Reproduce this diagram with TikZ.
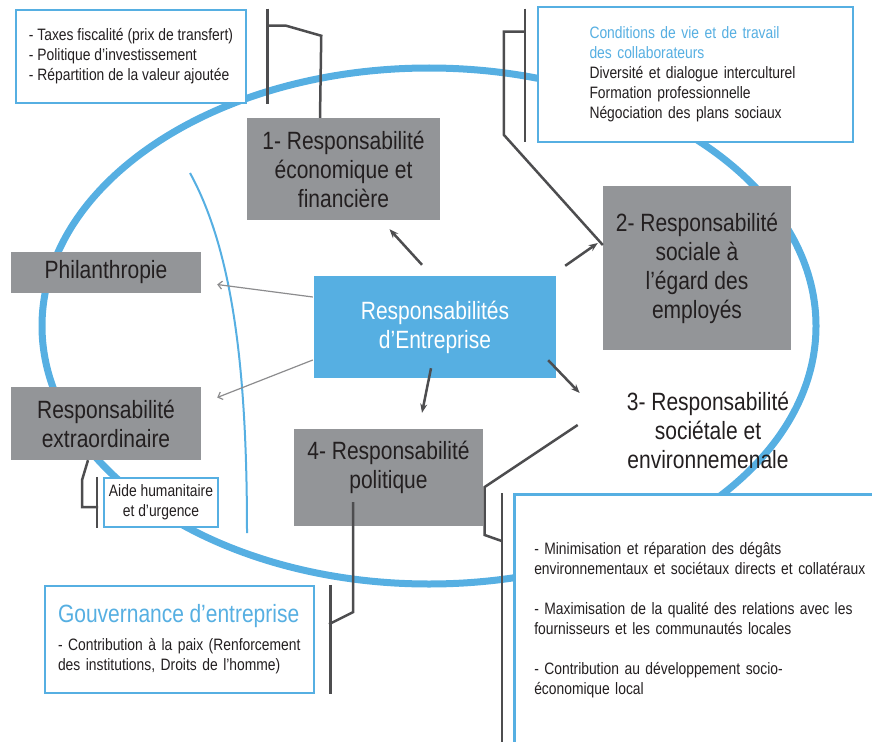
\documentclass[tikz,border=0pt]{standalone}
\usepackage{fontspec}
\setmainfont{Liberation Sans}[FakeStretch=0.84]
\usepackage{tikz}
\usetikzlibrary{calc,arrows.meta,positioning}

\definecolor{rblue}{RGB}{86,175,226}
\definecolor{rgray}{RGB}{147,149,152}
\definecolor{rdark}{RGB}{77,77,79}
\definecolor{rthin}{RGB}{140,140,142}
\definecolor{rtext}{RGB}{35,31,32}

\newcommand{\bigtxt}{\fontsize{25}{29}\selectfont}
\newcommand{\smalltxt}{\fontsize{16.5}{20}\selectfont}

\begin{document}
\begin{tikzpicture}[x=1pt,y=-1pt,
	graybox/.style={fill=rgray,text=rtext,font=\bigtxt,align=center,inner sep=0pt},
	listbox/.style={draw=rblue,line width=2.5pt,fill=white,text=rtext,font=\smalltxt,align=left,inner sep=0pt},
	bracket/.style={draw=rdark,line width=2.5pt},
	darrow/.style={draw=rdark,line width=2.5pt,-{Stealth[length=9pt,width=7pt]}},
	tarrow/.style={draw=rthin,line width=1.2pt,-{Straight Barb[length=4pt,width=8pt]}}]
	\useasboundingbox (0,0) rectangle (872,741);
	\clip (0,0) rectangle (872,741);
	
	%ring
	\draw[rblue,line width=7pt] (429,326) ellipse [x radius=387,y radius=258];
	\draw[rblue,line width=2pt] (190,173) .. controls (235,255) and (247,380) .. (247,533);
	
	%boxes
	\node[graybox,minimum width=193,minimum height=102] (econ) at (343.5,169) {1- Responsabilité\\économique et\\financière};
	\node[graybox,minimum width=188,minimum height=164] (social) at (697,268) {2- Responsabilité\\sociale à\\l’égard des\\employés};
	\node[fill=rblue,text=white,font=\bigtxt,align=center,inner sep=0pt,minimum width=242,minimum height=102] (resp) at (435,327) {Responsabilités\\d’Entreprise};
	\node[graybox,minimum width=190,minimum height=41] (phil) at (106,272.5) {Philanthropie};
	\node[graybox,minimum width=190,minimum height=73] (extra) at (106,423.5) {Responsabilité\\extraordinaire};
	\node[graybox,minimum width=189,minimum height=97] (pol) at (388.5,477.5) {};
	\node[font=\bigtxt,text=rtext,align=center,inner sep=0pt] (poltxt) at (388.5,467) {4- Responsabilité\\politique};
	\node[font=\bigtxt,text=rtext,align=center,inner sep=0pt] (env) at (708,430) {3- Responsabilité\\sociétale et\\environnemenale};
	
	%lists
	\node[listbox,minimum width=230,minimum height=93] (ecolist) at (131,56.5) {- Taxes fiscalité (prix de transfert)\\- Politique d’investissement\\- Répartition de la valeur ajoutée};
	\node[listbox,minimum width=315,minimum height=135,text width=212] (soclist) at (695.5,74.5) {{\color{rblue}Conditions de vie et de travail}\\{\color{rblue}des collaborateurs}\\Diversité et dialogue interculturel\\Formation professionnelle\\Négociation des plans sociaux};
	\node[listbox,minimum width=114,minimum height=49,align=center] (aide) at (161,502.5) {Aide humanitaire\\et d’urgence};
	\node[listbox,minimum width=269,minimum height=107,text width=243] (gouv) at (179.5,639.5) {{\color{rblue}\bigtxt Gouvernance d’entreprise}\\[8pt]- Contribution à la paix (Renforcement\\des institutions, Droits de l’homme)};
	\node[listbox,anchor=north west,minimum height=252,text width=339,inner xsep=20pt] (envlist) at (513,493) {- Minimisation et réparation des dégâts\\environnementaux et sociétaux directs et collatéraux\\[20pt]- Maximisation de la qualité des relations avec les\\fournisseurs et les communautés locales\\[20pt]- Contribution au développement socio-\\économique local};
	
	%brackets
	\draw[bracket] ($(ecolist.north east)+(20,0)$) -- ($(ecolist.south east)+(20,0)$);
	\draw[bracket] ($(ecolist.north east)+(20,17)$) -- ++(19,0) -- ++(35,10) -- ($(econ.north)+(-23.5,0)$);
	\draw[bracket] ($(soclist.north west)+(-12,3)$) -- ($(soclist.south west)+(-12,-1)$);
	\draw[bracket] ($(soclist.north west)+(-12,26)$) -- ++(-21,0) -- ++(0,103) -- ($(social.west)+(0,-23)$);
	\draw[bracket] ($(aide.north west)+(-6,0)$) -- ($(aide.south west)+(-6,0)$);
	\draw[bracket] ($(extra.south)+(-18,0)$) -- ++(-6,20) -- ++(0,27) -- ++(16,0);
	\draw[bracket] ($(gouv.north east)+(15,0)$) -- ($(gouv.south east)+(15,0)$);
	\draw[bracket] ($(pol.south)+(-35.5,-24)$) -- ++(0,110) -- ++(-24,12);
	\draw[bracket] ($(envlist.north west)+(-11,0)$) -- ($(envlist.south west)+(-11,0)$);
	\draw[bracket] ($(env.west)+(-49,-5)$) -- ++(-93,62) -- ++(0,48) -- ++(17,6);
	
	%arrows
	\draw[darrow] ($(resp.north)+(-13,-11)$) -- ($(econ.south)+(46,9)$);
	\draw[darrow] ($(resp.north east)+(9,-10)$) -- ($(social.west)+(-5,-25)$);
	\draw[darrow] ($(resp.south east)+(-8,-18)$) -- ($(env.west)+(-47,-37)$);
	\draw[darrow] ($(resp.south)+(-4,-10)$) -- ($(pol.north)+(33.5,-16)$);
	\draw[tarrow] ($(resp.west)+(-1,-30)$) -- ($(phil.east)+(16,12)$);
	\draw[tarrow] ($(resp.west)+(-1,33)$) -- ($(extra.east)+(16,-26)$);
\end{tikzpicture}
\end{document}
